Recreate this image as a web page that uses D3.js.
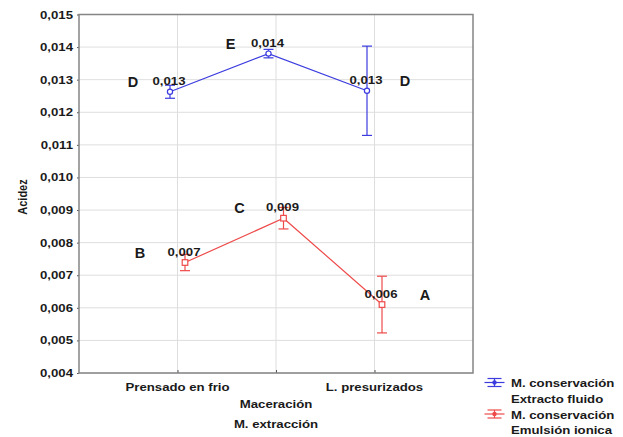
<!DOCTYPE html>
<html>
<head>
<meta charset="utf-8">
<script src="https://cdn.jsdelivr.net/npm/d3@7"></script>
<style>
  html, body { margin: 0; padding: 0; background: #fff; }
  svg { display: block; }
  text { font-family: "Liberation Sans", Arial, sans-serif; font-weight: bold; fill: #1a1a1a; }
</style>
</head>
<body>
<svg id="chart" width="623" height="437"></svg>
<script>
// Categories of the extraction method (x axis)
const categories = ["Prensado en frio", "Maceración", "L. presurizados"];

// Y axis ticks
const yTicks = [0.004, 0.005, 0.006, 0.007, 0.008, 0.009, 0.010, 0.011, 0.012, 0.013, 0.014, 0.015];

// Series 1: M. conservación = Extracto fluido
const extractoMean = [0.01263, 0.01380, 0.01266];
const extractoErr  = [0.00020, 0.00013, 0.00137];
const extractoGroups = ["D", "E", "D"];

// Series 2: M. conservación = Emulsión ionica
const emulsionMean = [0.00739, 0.00875, 0.00610];
const emulsionErr  = [0.00025, 0.00033, 0.00087];
const emulsionGroups = ["B", "C", "A"];

const seriesNames = [["M. conservación", "Extracto fluido"], ["M. conservación", "Emulsión ionica"]];

// ---- layout ----
const plot = { left: 79, right: 473, top: 14.5, bottom: 373 };
const STRETCH = 1.2;            // wide text rendering of the original export
const fmt = v => d3.format(".3f")(v).replace(".", ",");

const svg = d3.select("#chart");

const x = d3.scalePoint().domain(categories).range([plot.left, plot.right]).padding(1);
const y = d3.scaleLinear().domain([0.004, 0.015]).range([plot.bottom, plot.top]);

function wideText(g, str, tx, ty, anchor, size) {
  return g.append("text")
    .attr("transform", `translate(${tx},${ty}) scale(${STRETCH},1)`)
    .attr("text-anchor", anchor)
    .style("font-size", size + "px")
    .text(str);
}

// grid
const grid = svg.append("g");
grid.selectAll("line.h").data(yTicks).join("line")
  .attr("x1", plot.left).attr("x2", plot.right)
  .attr("y1", d => y(d)).attr("y2", d => y(d))
  .attr("stroke", "#dedede").attr("stroke-width", 1);
grid.selectAll("line.v").data(categories).join("line")
  .attr("x1", d => x(d)).attr("x2", d => x(d))
  .attr("y1", plot.top).attr("y2", plot.bottom)
  .attr("stroke", "#dedede").attr("stroke-width", 1);

// axes (ticks only, labels drawn below)
const yAxis = svg.append("g").attr("transform", `translate(${plot.left},0)`)
  .call(d3.axisLeft(y).tickValues(yTicks).tickSize(2).tickFormat(""));
yAxis.select(".domain").remove();
yAxis.selectAll("line").attr("stroke", "#555");
const xAxis = svg.append("g").attr("transform", `translate(0,${plot.bottom})`)
  .call(d3.axisBottom(x).tickSize(-3).tickFormat(""));
xAxis.select(".domain").remove();
xAxis.selectAll("line").attr("stroke", "#555");

// frame
svg.append("rect")
  .attr("x", plot.left).attr("y", plot.top)
  .attr("width", plot.right - plot.left).attr("height", plot.bottom - plot.top)
  .attr("fill", "none").attr("stroke", "#858585").attr("stroke-width", 1.5);

// y tick labels
yTicks.forEach(t => wideText(svg, fmt(t), plot.left - 6, y(t) + 4, "end", 11));

// x tick labels (staggered)
categories.forEach((c, i) => wideText(svg, c, x(c), i === 1 ? 408 : 391, "middle", 11));

// axis titles
wideText(svg, "M. extracción", x(categories[1]), 428, "middle", 11);
svg.append("text")
  .attr("transform", `translate(27,197) scale(${STRETCH},1) rotate(-90)`)
  .attr("text-anchor", "middle").style("font-size", "11px").text("Acidez");

// series
const series = [
  { mean: extractoMean, err: extractoErr, groups: extractoGroups, color: "#3b3bdf", dx: -7.5, marker: "circle",
    letterDx: [-37, -38, 38] },
  { mean: emulsionMean, err: emulsionErr, groups: emulsionGroups, color: "#ee4a4a", dx: 7.5, marker: "square",
    letterDx: [-45, -44, 43] }
];

series.forEach(s => {
  const g = svg.append("g");
  const pts = categories.map((c, i) => ({ c, i, m: s.mean[i], e: s.err[i], px: x(c) + s.dx, py: y(s.mean[i]) }));

  g.append("path")
    .attr("d", d3.line().x(d => d.px).y(d => d.py)(pts))
    .attr("fill", "none").attr("stroke", s.color).attr("stroke-width", 1.2);

  // error bars
  pts.forEach(d => {
    const y0 = y(d.m - d.e), y1 = y(d.m + d.e);
    g.append("line").attr("x1", d.px).attr("x2", d.px).attr("y1", y0).attr("y2", y1)
      .attr("stroke", s.color).attr("stroke-width", 1.2);
    [y0, y1].forEach(yy => g.append("line")
      .attr("x1", d.px - 5).attr("x2", d.px + 5).attr("y1", yy).attr("y2", yy)
      .attr("stroke", s.color).attr("stroke-width", 1.2));
  });

  // markers
  pts.forEach(d => {
    if (s.marker === "circle") {
      g.append("circle").attr("cx", d.px).attr("cy", d.py).attr("r", 2.6)
        .attr("fill", "#fff").attr("stroke", s.color).attr("stroke-width", 1.2);
    } else {
      g.append("rect").attr("x", d.px - 2.8).attr("y", d.py - 2.8).attr("width", 5.6).attr("height", 5.6)
        .attr("fill", "#fff").attr("stroke", s.color).attr("stroke-width", 1.2);
    }
  });

  // value labels and group letters
  pts.forEach(d => {
    wideText(svg, fmt(d.m), d.px - 1, d.py - 7, "middle", 11);
    svg.append("text").attr("x", d.px + s.letterDx[d.i]).attr("y", d.py - 5)
      .attr("text-anchor", "middle").style("font-size", "14.5px").text(s.groups[d.i]);
  });
});

// legend
const legend = svg.append("g");
series.forEach((s, k) => {
  const cy = 382.5 + k * 31.5;
  const cx = 494.5;
  legend.append("line").attr("x1", cx - 10).attr("x2", cx + 10).attr("y1", cy).attr("y2", cy)
    .attr("stroke", s.color).attr("stroke-width", 1.2);
  legend.append("line").attr("x1", cx).attr("x2", cx).attr("y1", cy - 4).attr("y2", cy + 4)
    .attr("stroke", s.color).attr("stroke-width", 1.2);
  [cy - 4, cy + 4].forEach(yy => legend.append("line")
    .attr("x1", cx - 7).attr("x2", cx + 7).attr("y1", yy).attr("y2", yy)
    .attr("stroke", s.color).attr("stroke-width", 1.2));
  legend.append("circle").attr("cx", cx).attr("cy", cy).attr("r", 2.2).attr("fill", s.color);
  wideText(legend, seriesNames[k][0], 511, cy + 4.5, "start", 11);
  wideText(legend, seriesNames[k][1], 511, cy + 20, "start", 11);
});
</script>
</body>
</html>
